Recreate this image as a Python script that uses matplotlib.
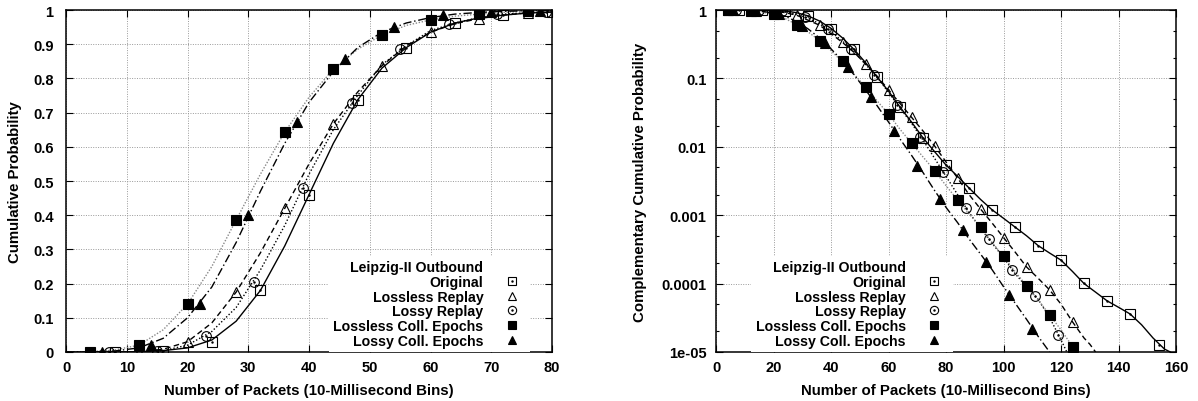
import matplotlib
matplotlib.use("Agg")
import matplotlib.pyplot as plt
from matplotlib.lines import Line2D
from matplotlib.ticker import MultipleLocator, FixedLocator, LogLocator, FuncFormatter, NullFormatter

plt.rcParams['font.family'] = ['Liberation Sans', 'DejaVu Sans']
plt.rcParams['font.weight'] = 'bold'
plt.rcParams['font.size'] = 10

series_names = ["Original", "Lossless Replay", "Lossy Replay",
                "Lossless Coll. Epochs", "Lossy Coll. Epochs"]
legend_title = "Leipzig-II Outbound"

# ---- left panel: CDF, curves sampled every 4 packets
cdf_x = [0, 4, 8, 12, 16, 20, 24, 28, 32, 36, 40, 44, 48, 52, 56, 60, 64, 68, 72, 76, 80]
cdf_original = [0, 0, 0, 0.001, 0.004, 0.012, 0.035, 0.09, 0.18, 0.31, 0.46, 0.61, 0.737, 0.83, 0.89,
                0.935, 0.962, 0.977, 0.985, 0.991, 0.994]
cdf_lossless = [0, 0, 0, 0.001, 0.008, 0.03, 0.085, 0.175, 0.29, 0.42, 0.55, 0.667, 0.76, 0.837, 0.895,
                0.935, 0.96, 0.975, 0.985, 0.992, 0.995]
cdf_lossy = [0, 0, 0, 0.001, 0.004, 0.02, 0.06, 0.13, 0.24, 0.37, 0.52, 0.65, 0.75, 0.84, 0.895,
             0.94, 0.962, 0.978, 0.988, 0.992, 0.995]
cdf_lossless_ce = [0, 0.001, 0.006, 0.02, 0.065, 0.14, 0.25, 0.386, 0.52, 0.643, 0.745, 0.827, 0.885,
                   0.927, 0.955, 0.971, 0.982, 0.988, 0.993, 0.997, 0.998]
cdf_lossy_ce = [0, 0, 0.003, 0.012, 0.04, 0.1, 0.19, 0.32, 0.47, 0.61, 0.73, 0.82, 0.89, 0.935, 0.962,
                0.978, 0.988, 0.993, 0.996, 0.998, 0.999]

# markers on the left panel
cdf_mx_original = [8, 16, 24, 32, 40, 48, 56, 64, 72, 80]
cdf_my_original = [0, 0.003, 0.03, 0.18, 0.46, 0.737, 0.89, 0.962, 0.985, 0.994]
cdf_mx_lossless = [4, 12, 20, 28, 36, 44, 52, 60, 68, 76]
cdf_my_lossless = [0, 0.001, 0.03, 0.175, 0.42, 0.667, 0.837, 0.935, 0.975, 0.992]
cdf_mx_lossy = [7, 15, 23, 31, 39, 47, 55, 63, 71, 79]
cdf_my_lossy = [0, 0.002, 0.047, 0.205, 0.48, 0.727, 0.886, 0.959, 0.988, 0.994]
cdf_mx_lossless_ce = [4, 12, 20, 28, 36, 44, 52, 60, 68, 76]
cdf_my_lossless_ce = [0.001, 0.02, 0.14, 0.386, 0.643, 0.827, 0.927, 0.971, 0.988, 0.997]
cdf_mx_lossy_ce = [6, 14, 22, 30, 38, 46, 54, 62, 70, 78]
cdf_my_lossy_ce = [0.001, 0.02, 0.14, 0.40, 0.672, 0.857, 0.95, 0.985, 0.994, 0.998]

# ---- right panel: CCDF (log scale)
ccdf_x_original = [0, 4, 8, 12, 16, 20, 24, 28, 32, 36, 40, 44, 48, 52, 56, 60, 64, 68, 72, 76, 80,
                   84, 88, 92, 96, 100, 104, 108, 112, 116, 120, 124, 128, 132, 136, 140, 144, 148,
                   152, 156, 158]
ccdf_original = [1, 1, 1, 0.999, 0.996, 0.988, 0.97, 0.915, 0.82, 0.69, 0.54, 0.39, 0.265, 0.17, 0.105,
                 0.065, 0.038, 0.023, 0.0135, 0.0085, 0.0054, 0.0037, 0.0025, 0.0017, 0.0012, 0.0009,
                 0.00067, 0.0005, 0.00036, 0.00028, 0.00022, 0.00015, 0.0001, 7.5e-5, 5.6e-5, 4.5e-5,
                 3.6e-5, 2.5e-5, 1.6e-5, 1.1e-5, 1e-5]
ccdf_x_lossless = [0, 4, 8, 12, 16, 20, 24, 28, 32, 36, 40, 44, 48, 52, 56, 60, 64, 68, 72, 76, 80,
                   84, 88, 92, 96, 100, 104, 108, 112, 116, 120, 124, 128, 130, 132]
ccdf_lossless = [1, 1, 1, 0.999, 0.993, 0.97, 0.915, 0.84, 0.71, 0.6, 0.45, 0.335, 0.24, 0.163, 0.108,
                 0.068, 0.043, 0.027, 0.017, 0.0103, 0.006, 0.0035, 0.002, 0.00123, 0.00077, 0.00047,
                 0.00029, 0.000175, 0.00012, 8.1e-5, 5e-5, 2.75e-5, 1.6e-5, 1.3e-5, 1e-5]
ccdf_x_lossy = [0, 4, 8, 12, 16, 20, 24, 28, 32, 36, 40, 44, 48, 52, 56, 60, 64, 68, 72, 76, 80,
                84, 88, 92, 96, 100, 104, 108, 112, 116, 120, 122]
ccdf_lossy = [1, 1, 1, 0.999, 0.996, 0.98, 0.94, 0.87, 0.76, 0.63, 0.48, 0.35, 0.25, 0.16, 0.105,
              0.062, 0.037, 0.022, 0.0125, 0.0068, 0.0037, 0.002, 0.0011, 0.00064, 0.00039, 0.00024,
              0.00014, 9e-5, 5.9e-5, 3.2e-5, 1.5e-5, 1e-5]
ccdf_x_lossless_ce = [0, 4, 8, 12, 16, 20, 24, 28, 32, 36, 40, 44, 48, 52, 56, 60, 64, 68, 72, 76, 80,
                      84, 88, 92, 96, 100, 104, 108, 112, 116, 120, 124, 126]
ccdf_lossless_ce = [1, 0.999, 0.994, 0.98, 0.935, 0.86, 0.75, 0.614, 0.48, 0.357, 0.255, 0.173, 0.115,
                    0.075, 0.047, 0.03, 0.018, 0.0113, 0.0071, 0.0045, 0.0027, 0.00167, 0.00105,
                    0.00067, 0.0004, 0.00025, 0.00015, 9.3e-5, 5.8e-5, 3.5e-5, 2.1e-5, 1.2e-5, 1e-5]
ccdf_x_lossy_ce = [0, 4, 8, 12, 16, 20, 24, 28, 32, 36, 40, 44, 48, 52, 56, 60, 64, 68, 72, 76, 80,
                   84, 88, 92, 96, 100, 104, 108, 112, 116]
ccdf_lossy_ce = [1, 1, 0.997, 0.988, 0.96, 0.9, 0.81, 0.68, 0.53, 0.39, 0.27, 0.18, 0.113, 0.068, 0.04,
                 0.023, 0.013, 0.0075, 0.0042, 0.0023, 0.0013, 0.00078, 0.00045, 0.00027, 0.00016,
                 9e-5, 5.2e-5, 3e-5, 1.7e-5, 1e-5]

# markers on the right panel
ccdf_mx_original = [8, 16, 24, 32, 40, 48, 56, 64, 72, 80, 88, 96, 104, 112, 120, 128, 136, 144, 154]
ccdf_my_original = [1, 0.997, 0.97, 0.82, 0.53, 0.27, 0.105, 0.038, 0.0135, 0.0054, 0.0025, 0.0012,
                    0.00067, 0.00036, 0.00022, 0.000102, 5.6e-5, 3.6e-5, 1.26e-5]
ccdf_mx_lossless = [4, 12, 20, 28, 36, 44, 52, 60, 68, 76, 84, 92, 100, 108, 116, 124]
ccdf_my_lossless = [1, 0.999, 0.97, 0.84, 0.6, 0.335, 0.163, 0.068, 0.027, 0.0103, 0.0035, 0.00123,
                    0.00047, 0.000175, 8.1e-5, 2.75e-5]
ccdf_mx_lossy = [7, 15, 23, 31, 39, 47, 55, 63, 71, 79, 87, 95, 103, 111, 119]
ccdf_my_lossy = [1, 0.998, 0.953, 0.795, 0.52, 0.273, 0.114, 0.041, 0.0139, 0.0043, 0.00126, 0.00045,
                 0.000158, 6.6e-5, 1.78e-5]
ccdf_mx_lossless_ce = [4, 12, 20, 28, 36, 44, 52, 60, 68, 76, 84, 92, 100, 108, 116, 124]
ccdf_my_lossless_ce = [0.999, 0.98, 0.86, 0.614, 0.357, 0.18, 0.075, 0.03, 0.0113, 0.0045, 0.00167,
                       0.00067, 0.00025, 9.3e-5, 3.5e-5, 1.2e-5]
ccdf_mx_lossy_ce = [6, 14, 22, 30, 38, 46, 54, 62, 70, 78, 86, 94, 102, 110]
ccdf_my_lossy_ce = [1, 0.98, 0.86, 0.58, 0.33, 0.147, 0.053, 0.017, 0.0052, 0.0017, 0.0006, 0.00021,
                    6.8e-5, 2.2e-5]

# line style, marker, fill for each series (gnuplot look)
line_styles = ['-', (0, (4, 2.5)), (0, (1, 1.5)), (0, (1, 1.2)), (0, (6, 2, 1, 2))]
line_colors = ['black', 'black', 'black', '#888888', 'black']
marker_shapes = ['s', '^', 'o', 's', '^']
marker_filled = [False, False, False, True, True]
marker_sizes = [7.5, 7, 7, 7, 6.5]


def draw_panel(ax, lines, markers):
    for i, ((lx, ly), (mx, my)) in enumerate(zip(lines, markers)):
        ax.plot(lx, ly, color=line_colors[i], linestyle=line_styles[i], lw=1.0, zorder=2)
        face = 'black' if marker_filled[i] else 'none'
        ax.plot(mx, my, linestyle='none', marker=marker_shapes[i], ms=marker_sizes[i],
                mfc=face, mec='black', mew=0.8, zorder=3)
        if not marker_filled[i] and marker_shapes[i] != '^':
            ax.plot(mx, my, linestyle='none', marker='.', ms=1.5, color='black', zorder=3)

    handles = [Line2D([], [], linestyle='none')]
    for i in range(len(series_names)):
        face = 'black' if marker_filled[i] else 'none'
        h = Line2D([], [], linestyle='none', marker=marker_shapes[i], ms=marker_sizes[i] * 0.85,
                   mfc=face, mec='black', mew=0.8)
        if not marker_filled[i] and marker_shapes[i] != '^':
            h = (h, Line2D([], [], linestyle='none', marker='.', ms=1.5, color='black'))
        handles.append(h)
    return handles


def style_axes(ax, ypad):
    ax.grid(True, which='major', color='#999999', linestyle=(0, (1, 1.5)), lw=0.7)
    ax.set_axisbelow(True)
    ax.tick_params(which='both', direction='in', top=True, right=True, labelsize=10.5)
    ax.tick_params(which='major', length=5, width=0.8)
    ax.tick_params(which='minor', length=2.5, width=0.8)
    ax.tick_params(axis='y', pad=ypad)
    ax.tick_params(axis='x', pad=5.5)
    for s in ax.spines.values():
        s.set_linewidth(1.1)
    for lab in ax.get_xticklabels() + ax.get_yticklabels():
        lab.set_fontweight('bold')


fig = plt.figure(figsize=(11.98, 4.02), dpi=100)
ax1 = fig.add_axes([0.0551, 0.1219, 0.4057, 0.8507])
ax2 = fig.add_axes([0.5977, 0.1219, 0.3840, 0.8507])

labels = [legend_title] + series_names
legend_kw = dict(loc='lower right', markerfirst=False, frameon=True, facecolor='white',
                 edgecolor='none', framealpha=1, fancybox=False, borderaxespad=0, borderpad=0.3,
                 labelspacing=0.05, handlelength=2.0, handletextpad=1.0, fontsize=10.2)

# left: cumulative probability
h1 = draw_panel(ax1,
                [(cdf_x, cdf_original), (cdf_x, cdf_lossless), (cdf_x, cdf_lossy),
                 (cdf_x, cdf_lossless_ce), (cdf_x, cdf_lossy_ce)],
                [(cdf_mx_original, cdf_my_original), (cdf_mx_lossless, cdf_my_lossless),
                 (cdf_mx_lossy, cdf_my_lossy), (cdf_mx_lossless_ce, cdf_my_lossless_ce),
                 (cdf_mx_lossy_ce, cdf_my_lossy_ce)])
ax1.set_xlim(0, 80)
ax1.set_ylim(0, 1)
ax1.xaxis.set_major_locator(MultipleLocator(10))
ax1.yaxis.set_major_locator(MultipleLocator(0.1))
ax1.yaxis.set_major_formatter(FuncFormatter(lambda v, p: '%g' % round(v, 2)))
ax1.set_xlabel('Number of Packets (10-Millisecond Bins)', fontweight='bold', fontsize=10.8, labelpad=7)
ax1.set_ylabel('Cumulative Probability', fontweight='bold', fontsize=10.8, labelpad=8)
style_axes(ax1, 9)
ax1.legend(h1, labels, bbox_to_anchor=(0.955, 0.0), **legend_kw)

# right: complementary cumulative probability
h2 = draw_panel(ax2,
                [(ccdf_x_original, ccdf_original), (ccdf_x_lossless, ccdf_lossless),
                 (ccdf_x_lossy, ccdf_lossy), (ccdf_x_lossless_ce, ccdf_lossless_ce),
                 (ccdf_x_lossy_ce, ccdf_lossy_ce)],
                [(ccdf_mx_original, ccdf_my_original), (ccdf_mx_lossless, ccdf_my_lossless),
                 (ccdf_mx_lossy, ccdf_my_lossy), (ccdf_mx_lossless_ce, ccdf_my_lossless_ce),
                 (ccdf_mx_lossy_ce, ccdf_my_lossy_ce)])
ax2.set_yscale('log')
ax2.set_xlim(0, 160)
ax2.set_ylim(1e-5, 1)
ax2.xaxis.set_major_locator(MultipleLocator(20))
ax2.yaxis.set_major_locator(FixedLocator([1e-5, 1e-4, 1e-3, 1e-2, 1e-1, 1]))
ax2.yaxis.set_minor_locator(LogLocator(base=10, subs=(2, 5)))
ax2.yaxis.set_minor_formatter(NullFormatter())
ax2.yaxis.set_major_formatter(FuncFormatter(lambda v, p: '%g' % v))
ax2.set_xlabel('Number of Packets (10-Millisecond Bins)', fontweight='bold', fontsize=10.8, labelpad=7)
ax2.set_ylabel('Complementary Cumulative Probability', fontweight='bold', fontsize=10.8, labelpad=10)
style_axes(ax2, 7)
ax2.legend(h2, labels, bbox_to_anchor=(0.514, 0.0), **legend_kw)

fig.savefig('out.png', dpi=100)
